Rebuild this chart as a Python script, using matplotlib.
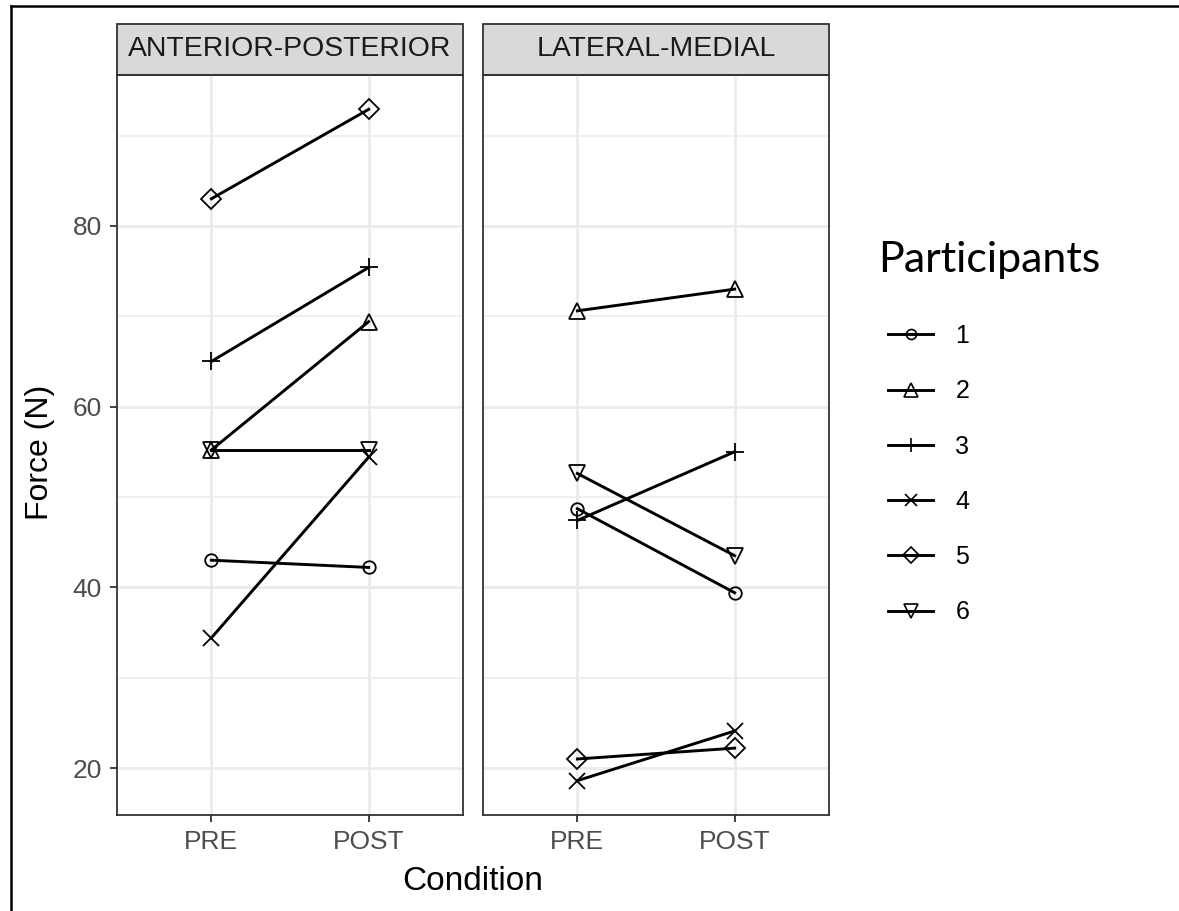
import matplotlib.pyplot as plt
from matplotlib.lines import Line2D
from matplotlib.patches import Rectangle

# data
conditions = ["PRE", "POST"]
facets = ["ANTERIOR-POSTERIOR", "LATERAL-MEDIAL"]
participants = ["1", "2", "3", "4", "5", "6"]

ap_pre = [43.0, 55.2, 65.0, 34.4, 83.0, 55.2]
ap_post = [42.2, 69.4, 75.4, 54.4, 92.9, 55.2]
lm_pre = [48.7, 70.6, 47.4, 18.6, 21.0, 52.6]
lm_post = [39.4, 73.0, 55.0, 24.1, 22.2, 43.5]

# ggplot shapes 1..6
markers = ["o", "^", "+", "x", "D", "v"]
msizes = [9, 12, 13, 11, 10, 12]

W, H = 1179, 911
fig = plt.figure(figsize=(W / 100, H / 100), dpi=100)
plt.rcParams['font.family'] = ['Liberation Sans', 'DejaVu Sans']

ax_w = 346 / W
ax_h = 740 / H
ax_b = 1 - 815 / H
axes = [fig.add_axes([117 / W, ax_b, ax_w, ax_h]),
        fig.add_axes([483 / W, ax_b, ax_w, ax_h])]

grid_c = "#EBEBEB"
for k, (ax, pre, post) in enumerate(zip(axes, [ap_pre, lm_pre], [ap_post, lm_post])):
    for i in range(len(participants)):
        ax.plot([0, 1], [pre[i], post[i]], color="black", lw=2.1,
                marker=markers[i], ms=msizes[i], mfc="none", mec="black",
                mew=1.3, zorder=3)
    ax.set_xlim(-0.6, 1.6)
    ax.set_ylim(14.8, 96.7)
    ax.set_xticks([0, 1])
    ax.set_xticklabels(conditions)
    ax.set_yticks([20, 40, 60, 80])
    ax.set_yticks([30, 50, 70, 90], minor=True)
    ax.grid(True, which="major", color=grid_c, lw=2.0, zorder=0)
    ax.grid(True, which="minor", axis="y", color=grid_c, lw=1.1, zorder=0)
    ax.tick_params(axis="both", which="major", length=5, width=1.3,
                   color="#333333", labelsize=19, labelcolor="#4D4D4D", pad=6)
    ax.tick_params(axis="both", which="minor", length=0)
    for s in ax.spines.values():
        s.set_color("#333333")
        s.set_linewidth(1.3)
    if k == 1:
        ax.tick_params(axis="y", which="major", length=0, labelleft=False)
    # facet strip
    strip_h = 51 / 740
    ax.add_patch(Rectangle((0, 1), 1, strip_h, transform=ax.transAxes,
                           facecolor="#D9D9D9", edgecolor="#333333",
                           lw=1.3, clip_on=False))
    ax.text(0.5, 1 + strip_h / 2, facets[k], transform=ax.transAxes,
            ha="center", va="center", fontsize=20.4, color="#1A1A1A")

fig.text(40 / W, 1 - 452 / H, "Force (N)", ha="center", va="center",
         rotation=90, fontsize=23)
fig.text((117 + 829) / 2 / W, 1 - 881 / H, "Condition", ha="center", va="center",
         fontsize=24)

# legend
handles = [Line2D([], [], color="black", lw=2.1, marker=m, ms=s * 0.8, mfc="none",
                  mec="black", mew=1.2) for m, s in zip(markers, msizes)]
fig.text(878 / W, 1 - 260 / H, "Participants", ha="left", va="center",
         fontsize=31, family=['Lato', 'DejaVu Sans'])
fig.legend(handles, participants, loc="upper left", bbox_to_anchor=(888 / W, 1 - 324 / H),
           frameon=False, fontsize=18, handlelength=1.8, handletextpad=0.9,
           labelspacing=1.25, borderaxespad=0, borderpad=0)

# outer frame of the picture
fig.add_artist(Line2D([10.5 / W, 10.5 / W], [0, 1 - 5.5 / H], color="black", lw=1.8))
fig.add_artist(Line2D([10.5 / W, 1], [1 - 5.5 / H, 1 - 5.5 / H], color="black", lw=1.8))

fig.savefig("out.png", dpi=100)
